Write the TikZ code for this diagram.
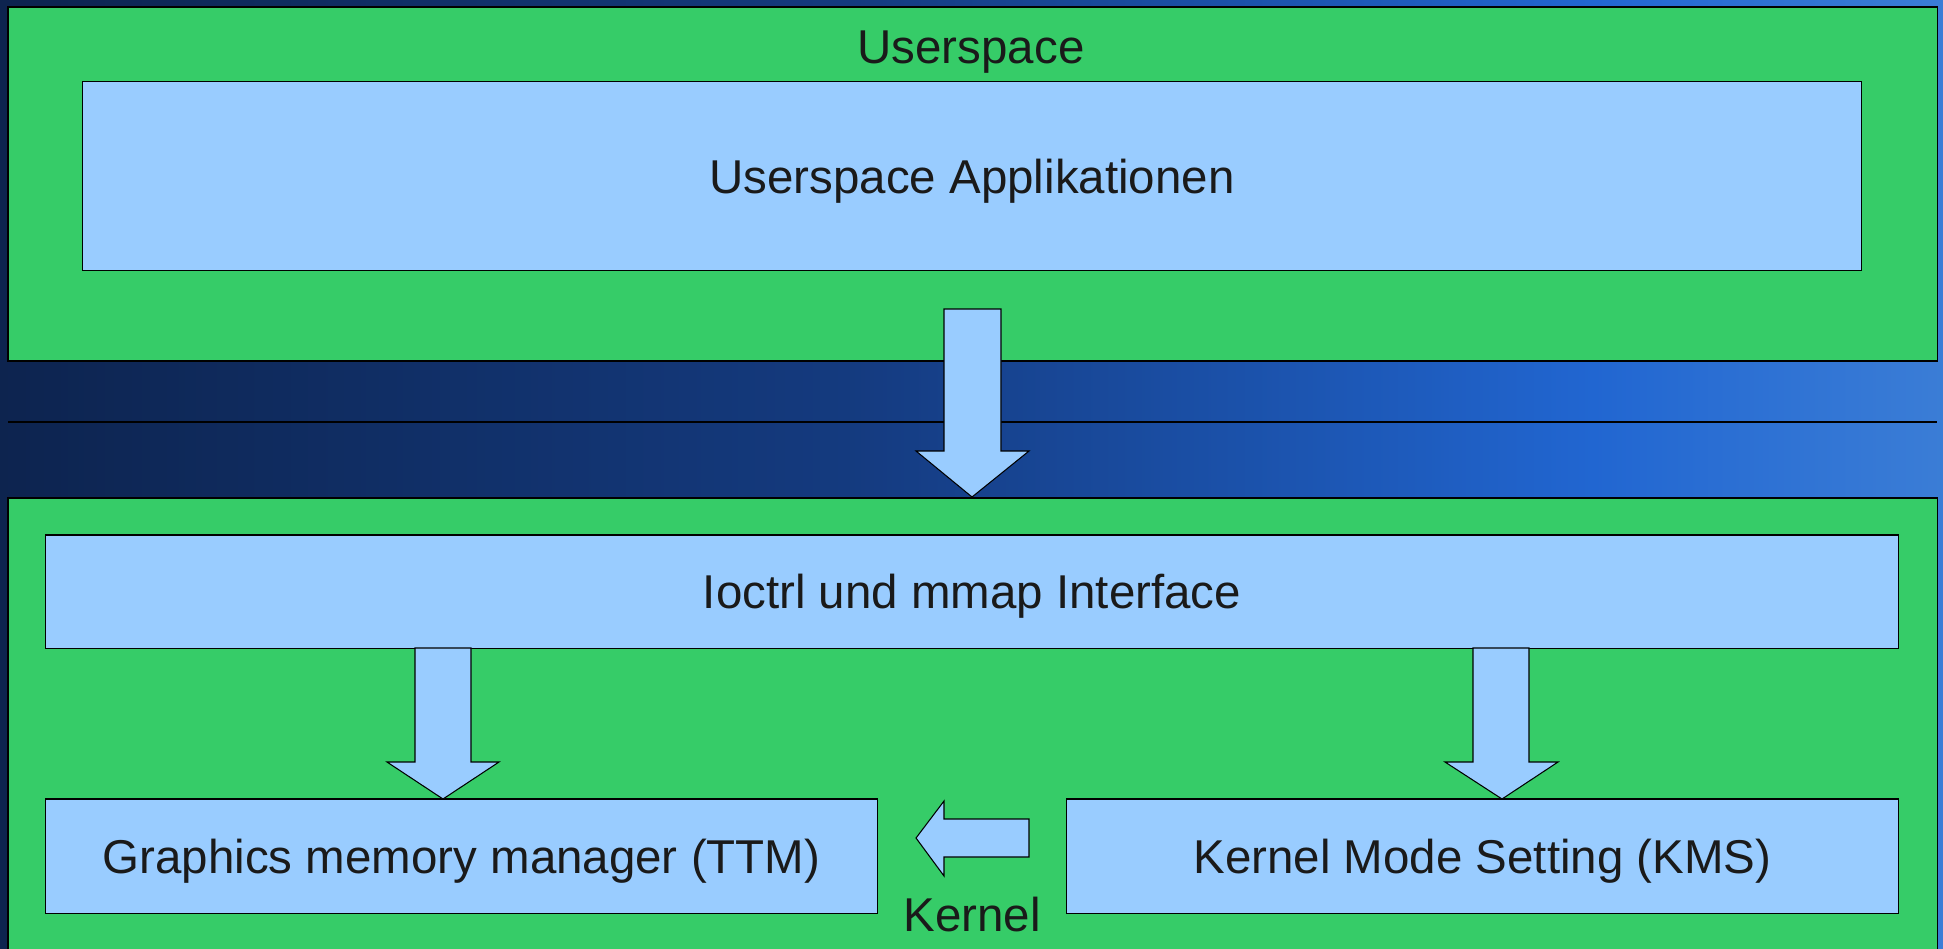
\documentclass[tikz,border=0pt]{standalone}
\usepackage{fontspec}
\setmainfont{Liberation Sans}
\usepackage{tikz}
\usepackage{xcolor}
\usetikzlibrary{positioning}

\definecolor{layergreen}{RGB}{54,204,104}
\definecolor{boxblue}{RGB}{153,204,255}
\definecolor{txtdark}{RGB}{26,26,26}
\pgfdeclarehorizontalshading{slidebg}{100bp}{rgb(0bp)=(0.05,0.14,0.31); rgb(25bp)=(0.05,0.14,0.31); rgb(47bp)=(0.08,0.23,0.50); rgb(66bp)=(0.13,0.40,0.82); rgb(75bp)=(0.23,0.49,0.84); rgb(100bp)=(0.23,0.49,0.84)}

\tikzset{
    layer/.style={fill=layergreen, draw=black, line width=0.3pt},
    box/.style={rectangle, fill=boxblue, draw=black, line width=0.3pt, inner sep=0pt, text=txtdark, text depth=0pt},
    blockarrow/.style={fill=boxblue, draw=black, line width=0.3pt, line join=miter},
    title/.style={text=txtdark, inner sep=0pt}
}

\begin{document}
\begin{tikzpicture}[x=0.01cm, y=-0.01cm, font=\fontsize{13.5}{16}\selectfont]
        \useasboundingbox (0,0) rectangle (1943,948);
        \clip (0,0) rectangle (1943,948);
        \shade[shading=slidebg] (0,0) rectangle (1943,948);

        \draw[layer] (8,7) rectangle (1937,361);
        \draw[layer] (8,498) rectangle (1937,960);
        \coordinate (sepl) at (8,422);
        \coordinate (sepr) at (1937,422);
        \draw[black, line width=0.4pt] (sepl) -- (sepr);

        \node[title] (user) at (971,52) {Userspace};
        \node[box, minimum width=17.78cm, minimum height=1.88cm] (apps) at (972,176) {Userspace Applikationen};
        \node[box, minimum width=18.52cm, minimum height=1.13cm] (ioctl) at (972,591.5) {Ioctrl und mmap Interface};
        \node[box, minimum width=8.31cm, minimum height=1.14cm] (ttm) at (461.5,856) {Graphics memory manager (TTM)};
        \node[box, minimum width=8.31cm, minimum height=1.14cm] (kms) at (1482.5,856) {Kernel Mode Setting (KMS)};
        \node[title] (kernel) at (972,915) {Kernel};

        \coordinate (ttmtip) at (443,799);
        \coordinate (kmstip) at (1502,799);
        \draw[blockarrow] (944,309) -- (1001,309) -- (1001,451) -- (1029,451) -- (972,497) -- (916,451) -- (944,451) -- cycle;
        \draw[blockarrow] (415,648) -- (471,648) -- (471,762) -- (499,762) -- (ttmtip) -- (387,762) -- (415,762) -- cycle;
        \draw[blockarrow] (1473,648) -- (1529,648) -- (1529,762) -- (1558,762) -- (kmstip) -- (1445,762) -- (1473,762) -- cycle;
        \draw[blockarrow] (1029,819) -- (1029,857) -- (944,857) -- (944,876) -- (916,838) -- (944,801) -- (944,819) -- cycle;
    \end{tikzpicture}
\end{document}
